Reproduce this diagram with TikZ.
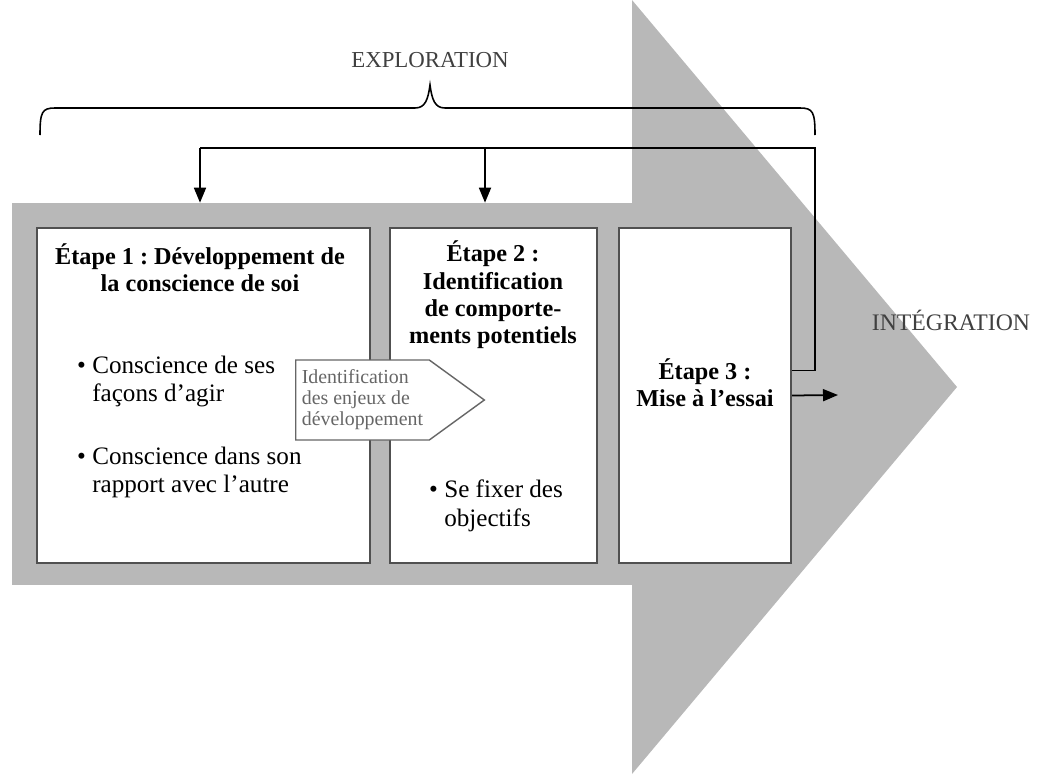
\documentclass[tikz,border=0pt]{standalone}
\usepackage{fontspec}
\setmainfont{Liberation Serif}
\usetikzlibrary{arrows.meta, positioning, shapes, calc}

\definecolor{bandgray}{RGB}{184,184,184}
\definecolor{boxline}{RGB}{80,80,80}
\tikzset{
  etapebox/.style={draw=boxline, line width=1.2pt, fill=white, inner sep=0pt},
  titre/.style={font=\fontsize{13.8}{15.5}\selectfont\bfseries, align=center},
  puce/.style={font=\fontsize{14.3}{16}\selectfont, align=left, anchor=north west},
  grand/.style={font=\fontsize{13}{14}\selectfont, text=black!75},
  fleche/.style={line width=1pt, -{Triangle[length=3mm,width=2.4mm]}}
}
\frenchspacing

\begin{document}
\begin{tikzpicture}[x=0.02cm, y=-0.02cm]
    \useasboundingbox (0,0) rectangle (1044,774);

    % Big arrow in the background
    \fill[bandgray] (632,0) -- (957,387) -- (632,774) -- cycle;
    \node[fill=bandgray, minimum width=12.4cm, minimum height=7.64cm, inner sep=0pt] (band) at (322,394) {};

    % Stages
    \node[etapebox, minimum width=6.66cm, minimum height=6.7cm] (box1) at (203.5,395.5) {};
    \node[etapebox, minimum width=4.14cm, minimum height=6.7cm] (box2) at (493.5,395.5) {};
    \node[etapebox, minimum width=3.44cm, minimum height=6.7cm] (box3) at (705,395.5) {};

    \node[titre] (t1) at (200,268) {Étape 1 : Développement de\\la conscience de soi};
    \node[titre] (t2) at (493,295) {Étape 2 :\\Identification\\de comporte-\\ments potentiels};
    \node[titre] (t3) at (705,383) {Étape 3 :\\Mise à l’essai};

    \node[puce] (b1) at (71,350) {\textbullet\ Conscience de ses\\\phantom{\textbullet\ }façons d’agir};
    \node[puce] (b2) at (71,441) {\textbullet\ Conscience dans son\\\phantom{\textbullet\ }rapport avec l'autre};
    \node[puce] (b3) at (423,474) {\textbullet\ Se fixer des\\\phantom{\textbullet\ }objectifs};

    % Issues to identify
    \node[shape=signal, signal to=east, signal pointer angle=72, draw=black!60, fill=white,
          line width=0.8pt, minimum height=1.6cm, inner xsep=3.5pt, inner ysep=2pt,
          font=\fontsize{11.3}{12}\selectfont, text=black!60, align=left,
          anchor=west] (enjeux) at (295,400)
          {Identification\\des enjeux de\\développement};

    % Exploration brace
    \draw[line width=0.9pt] (40,135) .. controls (40,112) and (42,108) .. (55,108)
        -- (415,108) .. controls (425,108) and (428,100) .. (430,85)
        .. controls (432,100) and (435,108) .. (445,108)
        -- (800,108) .. controls (813,108) and (815,112) .. (815,135);
    \node[grand] (explo) at (430,60) {EXPLORATION};
    \node[grand, font=\fontsize{13.5}{14}\selectfont] (integ) at (951,320) {INTÉGRATION};

    % Feedback loop
    \coordinate (fbR) at (815,148);
    \coordinate (fbL) at (200,148);
    \coordinate (fbM) at (485,148);
    \draw[line width=1pt] ([yshift=0.5cm]box3.east) -| (fbR) -- (fbL);
    \draw[fleche] (fbL) -- (fbL |- band.north);
    \draw[fleche] (fbM) -- (fbM |- band.north);

    \coordinate (sortie) at (838,395);
    \draw[fleche] (box3.east) -- (sortie);
\end{tikzpicture}
\end{document}
